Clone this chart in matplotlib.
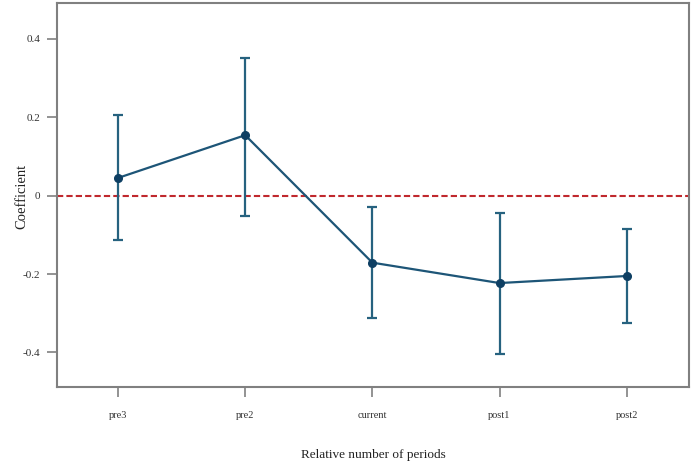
import matplotlib
matplotlib.use("Agg")
import matplotlib.pyplot as plt

periods = ["pre3", "pre2", "current", "post1", "post2"]
coef = [0.045, 0.154, -0.171, -0.223, -0.205]
ci_upper = [0.205, 0.352, -0.029, -0.044, -0.086]
ci_lower = [-0.114, -0.052, -0.313, -0.404, -0.325]
y_ticks = [-0.4, -0.2, 0, 0.2, 0.4]
y_tick_labels = ["-0.4", "-0.2", "0", "0.2", "0.4"]

plt.rcParams['font.family'] = ['Liberation Serif', 'DejaVu Serif']

fig = plt.figure(figsize=(7, 4.69), dpi=100)
ax = fig.add_axes([57/700, 1 - 387/469, (689 - 57)/700, (387 - 3)/469])

x = list(range(len(periods)))
yerr = [[c - l for c, l in zip(coef, ci_lower)], [u - c for c, u in zip(coef, ci_upper)]]

ax.axhline(0, color="#c0282d", linestyle=(0, (3, 1.5)), linewidth=1.5, zorder=1)
ax.errorbar(x, coef, yerr=yerr, fmt='none', ecolor="#26627f", elinewidth=1.6,
            capsize=3.5, capthick=1.6, zorder=2)
ax.plot(x, coef, color="#1d5577", linewidth=1.6, marker='o', markersize=5.5,
        markerfacecolor="#0e3f63", markeredgecolor="#0e3f63", zorder=3)

ax.set_xlim(-0.48, 4.49)
ax.set_ylim(-0.488, 0.491)
ax.set_xticks(x)
ax.set_xticklabels(periods, fontsize=7.5)
ax.set_yticks(y_ticks)
ax.set_yticklabels(y_tick_labels, fontsize=8)

for s in ax.spines.values():
    s.set_color("#808080")
    s.set_linewidth(1.5)

ax.tick_params(axis='x', direction='out', length=7, width=1.2, color="#808080",
               pad=10, labelcolor="#333333")
ax.tick_params(axis='y', direction='out', length=7, width=1.2, color="#808080",
               pad=5, labelcolor="#333333")

ax.set_xlabel("Relative number of periods", fontsize=9.5, color="#222222")
ax.xaxis.set_label_coords(0.5, -(455 - 387) / 384, transform=ax.transAxes)
ax.xaxis.label.set_va('center')
ax.set_ylabel("Coefficient", fontsize=10.5, color="#222222")
ax.yaxis.set_label_coords(-(57 - 22) / 632, (387 - 196) / 384, transform=ax.transAxes)
ax.yaxis.label.set_va('center')

fig.savefig("out.png", dpi=100)
